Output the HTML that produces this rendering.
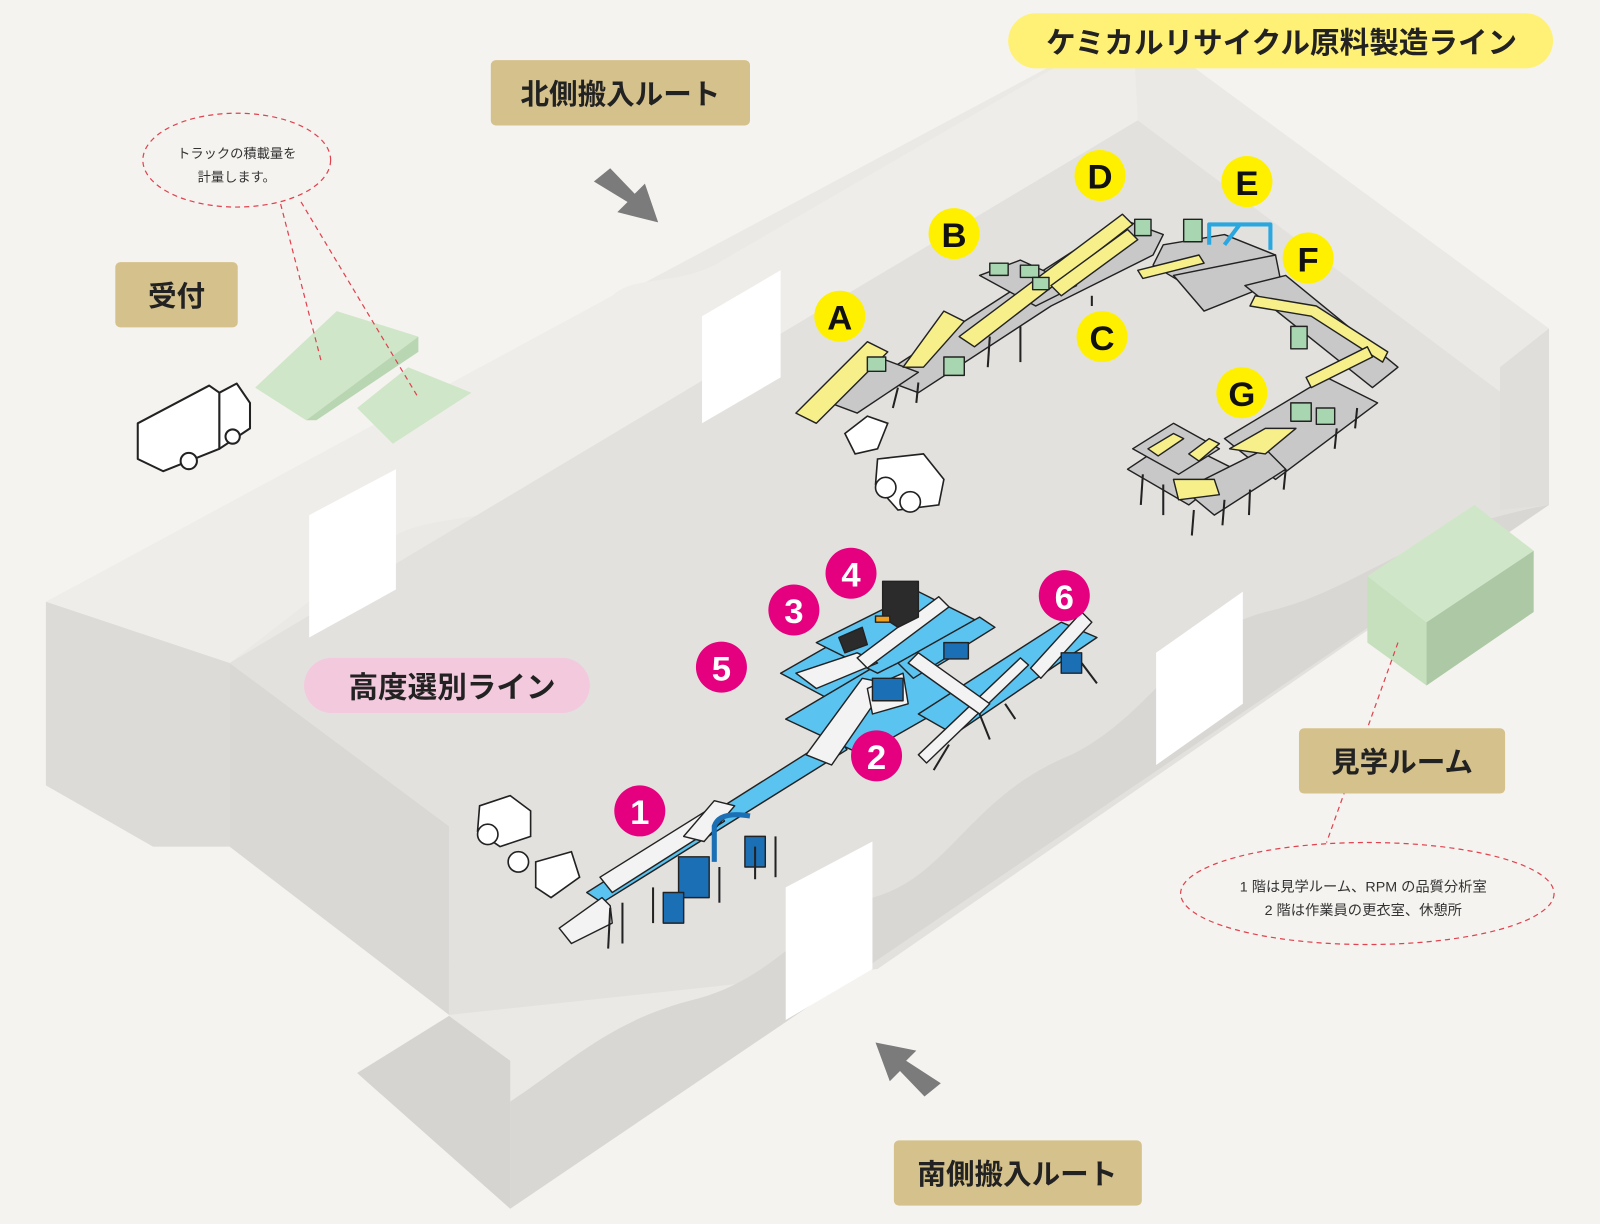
<!DOCTYPE html>
<html><head><meta charset="utf-8"><style>
html,body{margin:0;padding:0;background:#f5f3ef;}
svg{display:block;}
text{font-family:"Liberation Sans","Noto Sans CJK JP",sans-serif;}
</style></head><body>
<svg width="1600" height="1224" viewBox="0 0 1568 1200" preserveAspectRatio="none" xmlns="http://www.w3.org/2000/svg">
<rect width="1568" height="1200" fill="#f5f3ef"/>
<polygon points="45,590 1110,22 1518,322 1518,495 500,1185 350,1052 440,996 440,810 220,830 150,830 45,770" fill="#ebe9e5"/>
<path d="M45,590 L600,290 C620,270 660,280 700,260 L1110,22 L1115,118 L700,370 C620,410 600,440 560,470 C480,520 420,500 380,530 L225,650 Z" fill="#efedea"/>
<polygon points="225,650 1115,118 1518,420 1518,495 860,950 440,995 440,810" fill="#e3e1de"/>
<polygon points="45,590 225,650 225,830 150,830 45,770" fill="#dddbd8"/>
<polygon points="225,650 440,810 440,995 225,830" fill="#dad8d5"/>
<path d="M500,1185 L500,1080 C560,1040 600,1000 680,980 C760,960 790,900 855,880 C930,860 950,780 1050,740 C1130,700 1160,620 1240,600 C1330,580 1380,520 1518,495 L500,1185 Z" fill="#d9d7d3"/>
<polygon points="350,1052 440,996 500,1040 500,1185" fill="#d6d4d0"/>
<polygon points="1518,322 1518,495 1470,500 1470,360" fill="#e0deda"/>
<polygon points="688,310 765,265 765,370 688,415" fill="#fff"/>
<polygon points="303,505 388,460 388,578 303,625" fill="#fff"/>
<polygon points="1133,640 1218,580 1218,690 1133,750" fill="#fff"/>
<polygon points="770,870 855,825 855,950 770,1000" fill="#fff"/>

<polygon points="250,380 330,305 410,330 300,412" fill="#cfe6c8"/>
<polygon points="300,412 410,330 410,345 310,412" fill="#b9d6b2"/>
<polygon points="350,400 400,360 462,385 385,435" fill="#cfe6c8"/>
<polygon points="1340,565 1445,495 1503,540 1398,610" fill="#cfe6c8"/>
<polygon points="1340,565 1398,610 1398,672 1340,630" fill="#c6e0be"/>
<polygon points="1398,610 1503,540 1503,600 1398,672" fill="#acc8a4"/>

<g fill="#fff" stroke="#222" stroke-width="2" stroke-linejoin="round">
<polygon points="135,415 205,378 215,385 215,440 160,462 135,450"/>
<polygon points="215,385 232,376 245,395 245,420 215,440"/>
<circle cx="185" cy="452" r="8"/><circle cx="228" cy="428" r="7"/>
</g>
<g fill="#fff" stroke="#222" stroke-width="1.6">
<polygon points="828,425 850,408 870,415 860,440 838,445"/>
<polygon points="860,450 905,445 925,470 920,495 880,500 858,475"/>
<circle cx="868" cy="478" r="10"/><circle cx="892" cy="492" r="10"/>
<polygon points="470,790 500,780 520,795 520,820 490,830 468,815"/>
<polygon points="525,845 560,835 568,860 540,880 525,870"/>
<circle cx="478" cy="818" r="10"/><circle cx="508" cy="845" r="10"/>
</g>

<g stroke="#222" stroke-width="1.4" stroke-linejoin="round">
<polygon points="860,370 1100,215 1140,230 1130,250 1030,300 900,385" fill="#c9c8c8"/>
<polygon points="960,270 1000,255 1055,280 1015,300" fill="#c9c8c8"/>
<polygon points="1140,240 1200,230 1250,250 1230,270 1180,290 1130,260" fill="#c9c8c8"/>
<polygon points="1150,270 1250,250 1255,275 1180,305" fill="#c9c8c8"/>
<polygon points="1220,280 1260,270 1370,360 1345,380" fill="#c9c8c8"/>
<polygon points="1200,430 1300,370 1350,395 1250,470" fill="#c9c8c8"/>
<polygon points="1105,460 1150,430 1210,460 1165,495" fill="#c9c8c8"/>
<polygon points="1160,480 1240,440 1260,460 1190,505" fill="#c9c8c8"/>
<polygon points="1110,440 1150,415 1195,440 1155,465" fill="#c9c8c8"/>
<polygon points="800,390 860,350 900,365 840,405" fill="#c9c8c8"/>
<polygon points="780,405 850,335 870,345 800,415" fill="#f6ef8a"/>
<polygon points="885,360 925,305 945,315 905,360" fill="#f6ef8a"/>
<polygon points="940,330 1100,210 1110,220 955,340" fill="#f6ef8a"/>
<polygon points="1030,280 1105,225 1115,235 1040,290" fill="#f6ef8a"/>
<polygon points="1115,265 1175,250 1180,258 1120,273" fill="#f6ef8a"/>
<polygon points="1230,290 1290,300 1360,345 1355,355 1285,310 1225,300" fill="#f6ef8a"/>
<polygon points="1280,370 1340,340 1345,350 1285,380" fill="#f6ef8a"/>
<polygon points="1205,440 1240,420 1270,420 1240,445" fill="#f6ef8a"/>
<polygon points="1150,470 1190,470 1195,485 1155,490" fill="#f6ef8a"/>
<polygon points="1125,440 1150,425 1160,430 1135,447" fill="#f6ef8a"/>
<polygon points="1165,445 1185,430 1195,435 1175,452" fill="#f6ef8a"/>
<rect x="850" y="350" width="18" height="14" fill="#a8d6b0"/>
<rect x="970" y="258" width="18" height="12" fill="#a8d6b0"/>
<rect x="1000" y="260" width="18" height="12" fill="#a8d6b0"/>
<rect x="1012" y="272" width="16" height="12" fill="#a8d6b0"/>
<rect x="925" y="350" width="20" height="18" fill="#a8d6b0"/>
<rect x="1160" y="215" width="18" height="22" fill="#a8d6b0"/>
<rect x="1112" y="215" width="16" height="16" fill="#a8d6b0"/>
<rect x="1265" y="320" width="16" height="22" fill="#a8d6b0"/>
<rect x="1265" y="395" width="20" height="18" fill="#a8d6b0"/>
<rect x="1290" y="400" width="18" height="16" fill="#a8d6b0"/>
<path d="M1185,240 L1185,220 L1245,220 L1245,245" fill="none" stroke="#2aa7df" stroke-width="4"/>
<path d="M1200,240 L1215,220" fill="none" stroke="#2aa7df" stroke-width="4"/>
</g>
<g stroke="#222" stroke-width="2">
<line x1="880" y1="380" x2="875" y2="400"/><line x1="970" y1="330" x2="968" y2="360"/><line x1="1000" y1="320" x2="1000" y2="355"/>
<line x1="1170" y1="500" x2="1168" y2="525"/><line x1="1200" y1="490" x2="1198" y2="515"/>
<line x1="1225" y1="480" x2="1224" y2="505"/><line x1="1310" y1="420" x2="1308" y2="440"/>
<line x1="1120" y1="465" x2="1118" y2="495"/><line x1="1140" y1="475" x2="1140" y2="505"/>
<line x1="1330" y1="400" x2="1328" y2="420"/><line x1="1260" y1="460" x2="1258" y2="480"/>
<line x1="1070" y1="290" x2="1070" y2="300"/><line x1="900" y1="375" x2="898" y2="395"/>
</g>

<g stroke="#222" stroke-width="1.4" stroke-linejoin="round">
<polygon points="575,875 820,720 830,735 590,885" fill="#5bc3f0"/>
<polygon points="765,660 870,600 940,640 840,700" fill="#5bc3f0"/>
<polygon points="770,705 880,640 950,680 845,740" fill="#5bc3f0"/>
<polygon points="800,630 900,580 960,610 860,660" fill="#5bc3f0"/>
<polygon points="900,700 1040,610 1075,625 935,720" fill="#5bc3f0"/>
<polygon points="880,650 960,605 975,615 895,665" fill="#5bc3f0"/>
<polygon points="548,910 590,880 598,888 600,905 560,925" fill="#f3f3f3"/>
<polygon points="588,860 700,790 710,805 600,875" fill="#f3f3f3"/>
<polygon points="670,820 700,785 720,790 690,825" fill="#f3f3f3"/>
<polygon points="790,740 845,665 870,670 815,750" fill="#f3f3f3"/>
<polygon points="780,660 840,640 860,650 800,675" fill="#f3f3f3"/>
<polygon points="840,645 920,585 930,595 850,655" fill="#f3f3f3"/>
<polygon points="900,740 1000,645 1008,652 908,748" fill="#f3f3f3"/>
<polygon points="1010,655 1060,600 1070,610 1020,665" fill="#f3f3f3"/>
<polygon points="850,675 885,660 890,690 855,700" fill="#f3f3f3"/>
<polygon points="900,640 970,690 960,700 890,650" fill="#f3f3f3"/>
<polygon points="865,570 900,570 900,605 880,615 865,605" fill="#2b2b2b"/>
<polygon points="822,625 845,615 850,632 828,640" fill="#2b2b2b"/>
<rect x="858" y="604" width="14" height="6" fill="#f0a020"/>
<rect x="925" y="630" width="24" height="16" fill="#1b6fb5"/>
<rect x="665" y="840" width="30" height="40" fill="#1b6fb5"/>
<rect x="650" y="875" width="20" height="30" fill="#1b6fb5"/>
<rect x="730" y="820" width="20" height="30" fill="#1b6fb5"/>
<rect x="855" y="665" width="30" height="22" fill="#1b6fb5"/>
<rect x="1040" y="640" width="20" height="20" fill="#1b6fb5"/>
</g>
<path d="M700,845 L700,810 Q705,795 735,800" fill="none" stroke="#1b6fb5" stroke-width="5"/>
<g stroke="#222" stroke-width="2">
<line x1="598" y1="890" x2="596" y2="930"/><line x1="610" y1="885" x2="610" y2="925"/><line x1="640" y1="870" x2="640" y2="905"/>
<line x1="705" y1="850" x2="705" y2="885"/><line x1="760" y1="820" x2="760" y2="860"/><line x1="740" y1="830" x2="740" y2="862"/>
<line x1="930" y1="730" x2="915" y2="755"/><line x1="960" y1="700" x2="970" y2="725"/>
<line x1="1060" y1="650" x2="1075" y2="670"/><line x1="985" y1="690" x2="995" y2="705"/>
</g>

<polygon points="582,178 598,165 622,190 632,180 645,218 605,208 615,198" fill="#7b7b7b"/>
<polygon points="922,1062 906,1075 882,1050 872,1060 858,1022 898,1030 888,1040" fill="#7b7b7b"/>

<g fill="none" stroke="#e0424f" stroke-width="1.2" stroke-dasharray="5,4">
<ellipse cx="232" cy="157" rx="92" ry="46"/>
<line x1="275" y1="200" x2="315" y2="355"/>
<line x1="295" y1="198" x2="410" y2="390"/>
<ellipse cx="1340" cy="876" rx="183" ry="50"/>
<line x1="1370" y1="630" x2="1300" y2="826"/>
</g>
<text x="232" y="155" font-size="13" text-anchor="middle" fill="#333">トラックの積載量を</text>
<text x="232" y="178" font-size="13" text-anchor="middle" fill="#333">計量します。</text>
<text x="1336" y="874" font-size="14" text-anchor="middle" fill="#333">1 階は見学ルーム、RPM の品質分析室</text>
<text x="1336" y="897" font-size="14" text-anchor="middle" fill="#333">2 階は作業員の更衣室、休憩所</text>

<g font-weight="bold" fill="#222">
<rect x="481" y="59" width="254" height="64" rx="5" fill="#d5c18c"/>
<text x="608" y="102" font-size="28" text-anchor="middle" fill="#222">北側搬入ルート</text>
<rect x="113" y="257" width="120" height="64" rx="5" fill="#d5c18c"/>
<text x="173" y="300" font-size="28" text-anchor="middle" fill="#222">受付</text>
<rect x="876" y="1118" width="243" height="64" rx="5" fill="#d5c18c"/>
<text x="997" y="1161" font-size="28" text-anchor="middle" fill="#222">南側搬入ルート</text>
<rect x="1273" y="714" width="202" height="64" rx="5" fill="#d5c18c"/>
<text x="1374" y="757" font-size="28" text-anchor="middle" fill="#222">見学ルーム</text>
<rect x="988" y="13" width="534" height="54" rx="27" fill="#fff176"/>
<text x="1256" y="52" font-size="29" text-anchor="middle" fill="#222">ケミカルリサイクル原料製造ライン</text>
<rect x="298" y="645" width="280" height="54" rx="27" fill="#f2c9dd"/>
<text x="443" y="684" font-size="29" text-anchor="middle" fill="#222">高度選別ライン</text>
</g>

<g font-weight="bold" font-size="34" text-anchor="middle">
<circle cx="823" cy="310" r="25" fill="#fff000"/><text x="823" y="323" fill="#111">A</text>
<circle cx="935" cy="229" r="25" fill="#fff000"/><text x="935" y="242" fill="#111">B</text>
<circle cx="1080" cy="330" r="25" fill="#fff000"/><text x="1080" y="343" fill="#111">C</text>
<circle cx="1078" cy="172" r="25" fill="#fff000"/><text x="1078" y="185" fill="#111">D</text>
<circle cx="1222" cy="178" r="25" fill="#fff000"/><text x="1222" y="191" fill="#111">E</text>
<circle cx="1282" cy="253" r="25" fill="#fff000"/><text x="1282" y="266" fill="#111">F</text>
<circle cx="1217" cy="385" r="25" fill="#fff000"/><text x="1217" y="398" fill="#111">G</text>
<circle cx="627" cy="795" r="25" fill="#e4007f"/><text x="627" y="808" fill="#fff">1</text>
<circle cx="859" cy="741" r="25" fill="#e4007f"/><text x="859" y="754" fill="#fff">2</text>
<circle cx="778" cy="598" r="25" fill="#e4007f"/><text x="778" y="611" fill="#fff">3</text>
<circle cx="834" cy="562" r="25" fill="#e4007f"/><text x="834" y="575" fill="#fff">4</text>
<circle cx="707" cy="654" r="25" fill="#e4007f"/><text x="707" y="667" fill="#fff">5</text>
<circle cx="1043" cy="584" r="25" fill="#e4007f"/><text x="1043" y="597" fill="#fff">6</text>
</g>
</svg>
</body></html>
